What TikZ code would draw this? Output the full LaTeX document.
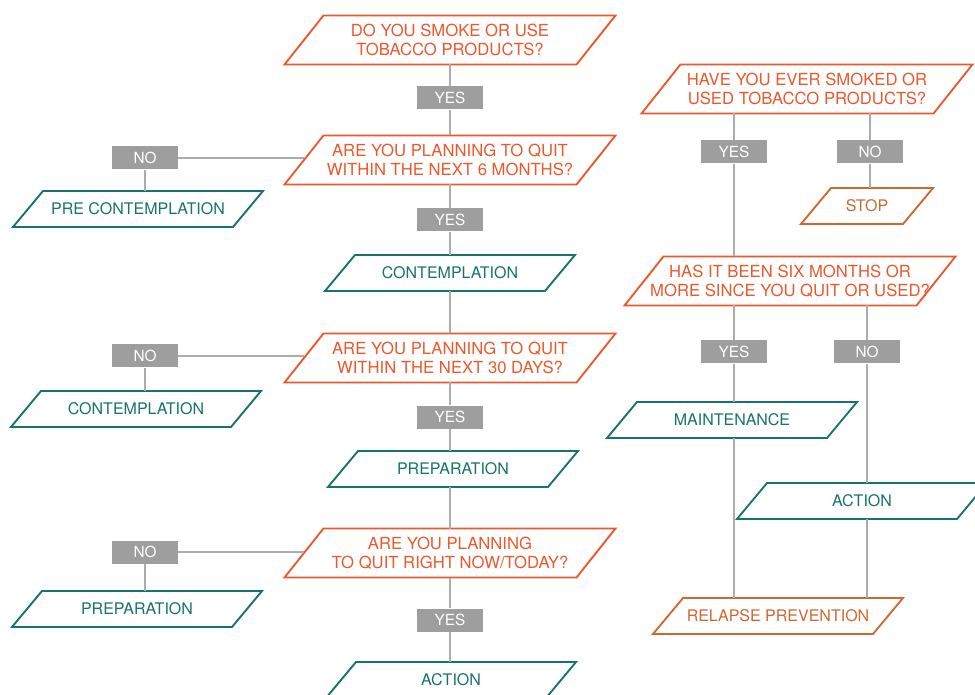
\documentclass[tikz,border=0pt]{standalone}
\usepackage{fontspec}
\setmainfont{TeX Gyre Heros}
\usepackage{xcolor}
\definecolor{qorange}{RGB}{236,88,44}
\definecolor{sorange}{RGB}{206,104,48}
\definecolor{stageteal}{RGB}{22,116,106}
\definecolor{boxgray}{RGB}{158,158,158}
\definecolor{linegray}{RGB}{172,172,172}

\begin{document}
\begin{tikzpicture}[x=0.75pt, y=-0.75pt,
  para/.style 2 args={rectangle, inner sep=0pt, outer sep=0pt, align=center, text=#1,
    append after command={\pgfextra{\draw[#1, line width=1.4pt]
      ([xshift=#2]\tikzlastnode.north west) -- ([xshift=#2]\tikzlastnode.north east)
      -- ([xshift=-#2]\tikzlastnode.south east) -- ([xshift=-#2]\tikzlastnode.south west)
      -- cycle;}}},
  question/.style={para={qorange}{14.6pt}, minimum width=219pt, minimum height=36.75pt,
    font=\fontsize{12.5}{14.25}\selectfont},
  stage/.style={para={stageteal}{11.25pt}, minimum width=165pt, minimum height=27pt,
    font=\fontsize{12}{14}\selectfont},
  endbox/.style={para={sorange}{11.25pt}, minimum width=165pt, minimum height=27pt,
    font=\fontsize{12}{14}\selectfont},
  answer/.style={fill=boxgray, text=white, minimum width=49.5pt, minimum height=17.25pt,
    inner sep=0pt, font=\fontsize{11.5}{13}\selectfont},
  link/.style={draw=linegray, line width=0.8pt}
]
  \useasboundingbox (0,0) rectangle (975,695);

  % --- Main column: current users ---
  \node[question] (q1) at (450,40) {DO YOU SMOKE OR USE\\TOBACCO PRODUCTS?};
  \node[answer] (y1) at (450,98) {YES};
  \node[question] (q2) at (450,160) {ARE YOU PLANNING TO QUIT\\WITHIN THE NEXT 6 MONTHS?};
  \node[answer] (n2) at (145,158) {NO};
  \node[stage] (pre) at (138,209) {PRE CONTEMPLATION};
  \node[answer] (y2) at (450,220) {YES};
  \node[stage] (con) at (450,273) {CONTEMPLATION};
  \node[question] (q3) at (450,358) {ARE YOU PLANNING TO QUIT\\WITHIN THE NEXT 30 DAYS?};
  \node[answer] (n3) at (145,356) {NO};
  \node[stage] (conL) at (136,409) {CONTEMPLATION};
  \node[answer] (y3) at (450,417) {YES};
  \node[stage] (prep) at (453,469) {PREPARATION};
  \node[question] (q4) at (450,553) {ARE YOU PLANNING\\TO QUIT RIGHT NOW/TODAY?};
  \node[answer] (n4) at (145,552) {NO};
  \node[stage] (prepL) at (137,609) {PREPARATION};
  \node[answer] (y4) at (450,620) {YES};
  \node[stage] (act) at (451,680) {ACTION};

  \draw[link] (q1) -- (y1) -- (q2);
  \draw[link] (q2) -- (y2) -- (con);
  \draw[link] (con) -- (q3);
  \draw[link] (q3) -- (y3) -- (y3 |- prep.north);
  \draw[link] (prep.south -| y3) -- (y3 |- q4.north);
  \draw[link] (q4) -- (y4) -- (y4 |- act.north);
  \draw[link] (n2) -- (n2 -| q2.west);
  \draw[link] (n2) -- (n2 |- pre.north);
  \draw[link] (n3) -- (n3 -| q3.west);
  \draw[link] (n3) -- (n3 |- conL.north);
  \draw[link] (n4) -- (n4 -| q4.west);
  \draw[link] (n4) -- (n4 |- prepL.north);

  % --- Right column: former users ---
  \node[question] (q5) at (807,89) {HAVE YOU EVER SMOKED OR\\USED TOBACCO PRODUCTS?};
  \node[answer] (y5) at (734,152) {YES};
  \node[answer] (n5) at (870,152) {NO};
  \node[endbox, minimum width=76.5pt] (stop) at (867,206) {STOP};
  \node[question] (q6) at (790,281) {HAS IT BEEN SIX MONTHS OR\\MORE SINCE YOU QUIT OR USED?};
  \node[answer] (y6) at (734,352) {YES};
  \node[answer] (n6) at (867,352) {NO};
  \node[stage] (maint) at (732,420) {MAINTENANCE};
  \node[stage] (act2) at (862,501) {ACTION};
  \node[endbox] (relapse) at (778,616) {RELAPSE PREVENTION};

  \draw[link] (q5.south -| y5) -- (y5) -- (y5 |- q6.north);
  \draw[link] (q5.south -| n5) -- (n5) -- (n5 |- stop.north);
  \draw[link] (q6.south -| y6) -- (y6) -- (y6 |- maint.north);
  \draw[link] (maint.south -| y6) -- (y6 |- relapse.north);
  \draw[link] (q6.south -| n6) -- (n6) -- (n6 |- act2.north);
  \draw[link] (act2.south -| n6) -- (n6 |- relapse.north);
\end{tikzpicture}
\end{document}
